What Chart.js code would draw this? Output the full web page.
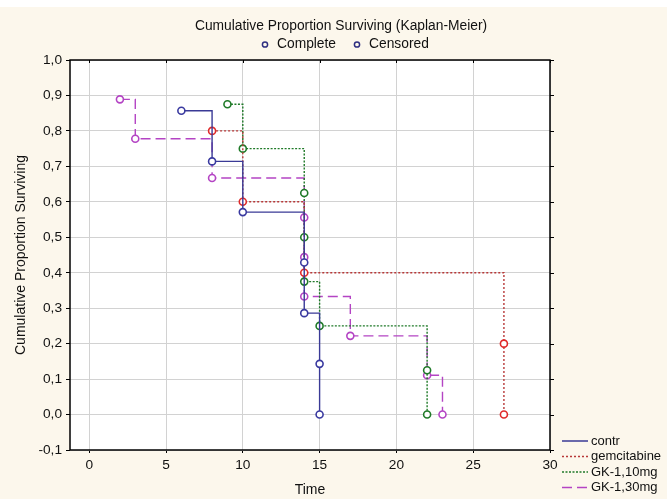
<!DOCTYPE html>
<html>
<head>
<meta charset="utf-8">
<script src="https://cdn.jsdelivr.net/npm/chart.js@4.4.0/dist/chart.umd.min.js"></script>
<style>
  html, body { margin: 0; padding: 0; background: #fcf7ec; }
  canvas { display: block; }
</style>
</head>
<body>
<canvas id="kmChart" width="667" height="499"></canvas>
<script>
// Kaplan-Meier estimates (time, survival at each event)
const contrTime = [6, 8, 10, 14, 14, 15, 15];
const contrSurv = [0.857, 0.714, 0.571, 0.429, 0.286, 0.143, 0.0];
const gemTime = [8, 10, 14, 27, 27];
const gemSurv = [0.8, 0.6, 0.4, 0.2, 0.0];
const gk10Time = [9, 10, 14, 14, 14, 15, 22, 22];
const gk10Surv = [0.875, 0.75, 0.625, 0.5, 0.375, 0.25, 0.125, 0.0];
const gk30Time = [2, 3, 8, 14, 14, 14, 17, 22, 23];
const gk30Surv = [0.889, 0.778, 0.667, 0.556, 0.444, 0.333, 0.222, 0.111, 0.0];

const seriesNames = ['contr', 'gemcitabine', 'GK-1,10mg', 'GK-1,30mg'];
const xTicks = [0, 5, 10, 15, 20, 25, 30];
const yTicks = [-0.1, 0.0, 0.1, 0.2, 0.3, 0.4, 0.5, 0.6, 0.7, 0.8, 0.9, 1.0];
const topLegend = ['Complete', 'Censored'];

const FONT = "'Liberation Sans', Arial, sans-serif";
const BG = '#fcf7ec';

function pts(t, s) {
  return t.map((x, i) => ({ x: x, y: s[i] }));
}

// 'before' in chart.js = horizontal run first, then the drop
function km(label, t, s, line, mark, dash) {
  return {
    label: label,
    data: pts(t, s),
    stepped: 'before',
    borderColor: line,
    borderWidth: 1.4,
    borderDash: dash,
    pointRadius: 3.5,
    pointBorderWidth: 1.6,
    pointBorderColor: mark,
    pointBackgroundColor: '#ffffff',
    pointHoverRadius: 3.5,
    fill: false
  };
}

const frame = {
  id: 'frame',
  beforeDraw(chart) {
    const { ctx, chartArea: a } = chart;
    ctx.save();
    ctx.fillStyle = BG;
    ctx.fillRect(0, 0, chart.width, chart.height);
    ctx.fillStyle = '#ffffff';
    ctx.fillRect(0, 0, chart.width, 7);
    ctx.fillRect(a.left, a.top, a.right - a.left, a.bottom - a.top);
    ctx.restore();
  },
  afterDraw(chart) {
    const { ctx, chartArea: a } = chart;
    const xs = chart.scales.x, ys = chart.scales.y;
    ctx.save();
    // plot frame
    ctx.strokeStyle = '#000';
    ctx.lineWidth = 1.5;
    ctx.strokeRect(a.left, a.top, a.right - a.left, a.bottom - a.top);
    // ticks on right and top edges
    ctx.lineWidth = 1;
    ctx.beginPath();
    yTicks.forEach(v => {
      const y = Math.round(ys.getPixelForValue(v)) + 0.5;
      ctx.moveTo(a.right, y); ctx.lineTo(a.right + 4, y);
    });
    xTicks.forEach(v => {
      const x = Math.round(xs.getPixelForValue(v)) + 0.5;
      ctx.moveTo(x, a.top); ctx.lineTo(x, a.top + 3);
    });
    ctx.stroke();

    // title
    ctx.fillStyle = '#111';
    ctx.font = '13.8px ' + FONT;
    ctx.textAlign = 'center';
    ctx.textBaseline = 'middle';
    ctx.fillText('Cumulative Proportion Surviving (Kaplan-Meier)', 341, 26);

    // Complete / Censored legend
    ctx.textAlign = 'left';
    const marks = [265, 357];
    topLegend.forEach((txt, i) => {
      ctx.strokeStyle = '#2e2e80';
      ctx.lineWidth = 1.5;
      ctx.beginPath();
      ctx.arc(marks[i], 44.5, 2.6, 0, Math.PI * 2);
      ctx.stroke();
      ctx.fillText(txt, marks[i] + 12, 44);
    });

    // series legend, bottom right
    ctx.font = '13px ' + FONT;
    chart.data.datasets.forEach((ds, i) => {
      const y = 441 + i * 15.5;
      ctx.strokeStyle = ds.borderColor;
      ctx.lineWidth = 1.5;
      ctx.setLineDash(ds.borderDash || []);
      ctx.beginPath();
      ctx.moveTo(562, y); ctx.lineTo(588, y);
      ctx.stroke();
      ctx.setLineDash([]);
      ctx.fillStyle = '#111';
      ctx.fillText(ds.label, 591, y);
    });
    ctx.restore();
  }
};

Chart.defaults.font.family = FONT;
Chart.defaults.color = '#111';

new Chart(document.getElementById('kmChart'), {
  type: 'line',
  data: {
    datasets: [
      km(seriesNames[0], contrTime, contrSurv, '#3a3a96', '#3a3aa0', []),
      km(seriesNames[1], gemTime, gemSurv, '#b83838', '#e02a2a', [2, 2]),
      km(seriesNames[2], gk10Time, gk10Surv, '#1f7a28', '#1f7a28', [2, 1.5]),
      km(seriesNames[3], gk30Time, gk30Surv, '#b444c4', '#b444c4', [10, 5])
    ]
  },
  options: {
    responsive: false,
    animation: false,
    devicePixelRatio: 1,
    layout: { padding: { top: 60, right: 117, left: 0, bottom: 0 } },
    plugins: {
      legend: { display: false },
      title: { display: false },
      tooltip: { enabled: false }
    },
    scales: {
      x: {
        type: 'linear',
        min: -1.25,
        max: 30,
        afterBuildTicks: s => { s.ticks = xTicks.map(v => ({ value: v })); },
        afterFit: s => { s.height = 49; },
        grid: { color: '#d2d2d2', lineWidth: 1, tickLength: 3, tickColor: '#000' },
        border: { display: false },
        ticks: { font: { size: 13.7 }, padding: 4, maxRotation: 0 },
        title: { display: true, text: 'Time', font: { size: 14 }, padding: { top: 1, bottom: 0 } }
      },
      y: {
        type: 'linear',
        min: -0.1,
        max: 1.0,
        afterBuildTicks: s => { s.ticks = yTicks.map(v => ({ value: v })); },
        afterFit: s => { s.width = 70; },
        grid: { color: '#d2d2d2', lineWidth: 1, tickLength: 4, tickColor: '#000' },
        border: { display: false },
        ticks: {
          font: { size: 13.7 },
          padding: 4,
          callback: v => v.toFixed(1).replace('.', ',')
        },
        title: { display: true, text: 'Cumulative Proportion Surviving', font: { size: 14 }, padding: { top: 12.5, bottom: 0 } }
      }
    }
  },
  plugins: [frame]
});
</script>
</body>
</html>
